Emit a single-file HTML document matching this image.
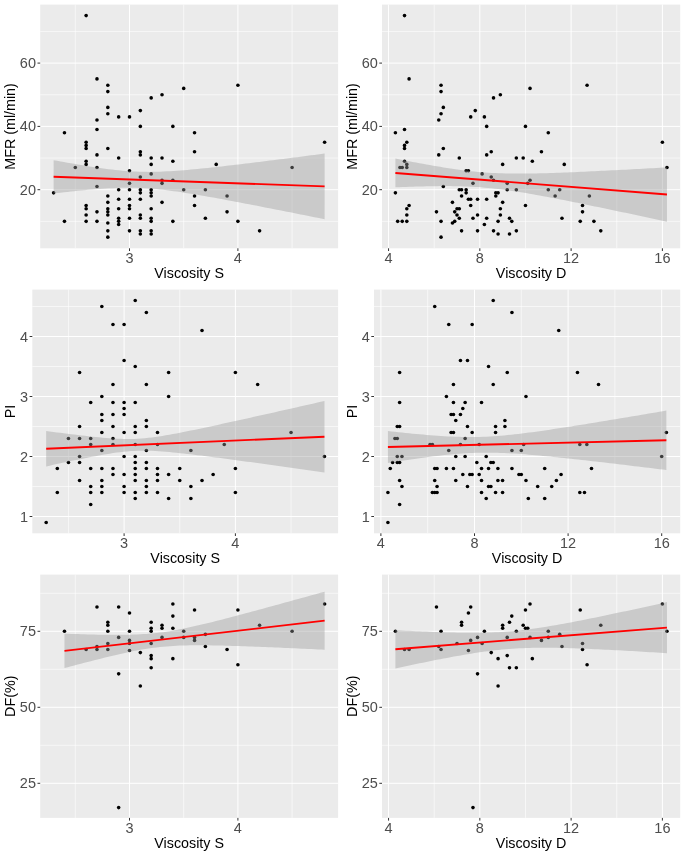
<!DOCTYPE html>
<html lang="en"><head><meta charset="utf-8"><title>Scatter plots</title>
<style>html,body{margin:0;padding:0;background:#fff}svg{display:block;will-change:transform}</style>
</head><body>
<svg width="685" height="856" viewBox="0 0 685 856" font-family="'Liberation Sans', Arial, Helvetica, sans-serif">
<rect width="685" height="856" fill="#fff"/>
<g>
<rect x="40.2" y="4.6" width="297.9" height="243.7" fill="#ebebeb"/>
<path d="M75.3 4.6V248.3M183.7 4.6V248.3M292.1 4.6V248.3M40.2 221.35H338.1M40.2 158.05H338.1M40.2 94.75H338.1M40.2 31.45H338.1" stroke="#fff" stroke-width="0.6" fill="none"/>
<path d="M129.5 4.6V248.3M237.9 4.6V248.3M40.2 189.7H338.1M40.2 126.4H338.1M40.2 63.1H338.1" stroke="#fff" stroke-width="1" fill="none"/>
<g fill="#000">
<circle cx="53.62" cy="192.87" r="1.8"/>
<circle cx="64.46" cy="132.73" r="1.8"/>
<circle cx="64.46" cy="221.35" r="1.8"/>
<circle cx="75.3" cy="167.55" r="1.8"/>
<circle cx="86.14" cy="15.62" r="1.8"/>
<circle cx="86.14" cy="142.22" r="1.8"/>
<circle cx="86.14" cy="145.39" r="1.8"/>
<circle cx="86.14" cy="148.56" r="1.8"/>
<circle cx="86.14" cy="161.22" r="1.8"/>
<circle cx="86.14" cy="164.38" r="1.8"/>
<circle cx="86.14" cy="205.53" r="1.8"/>
<circle cx="86.14" cy="208.69" r="1.8"/>
<circle cx="86.14" cy="215.02" r="1.8"/>
<circle cx="86.14" cy="221.35" r="1.8"/>
<circle cx="96.98" cy="78.92" r="1.8"/>
<circle cx="96.98" cy="120.07" r="1.8"/>
<circle cx="96.98" cy="129.56" r="1.8"/>
<circle cx="96.98" cy="154.88" r="1.8"/>
<circle cx="96.98" cy="167.55" r="1.8"/>
<circle cx="96.98" cy="186.53" r="1.8"/>
<circle cx="96.98" cy="211.85" r="1.8"/>
<circle cx="96.98" cy="221.35" r="1.8"/>
<circle cx="107.82" cy="85.25" r="1.8"/>
<circle cx="107.82" cy="91.59" r="1.8"/>
<circle cx="107.82" cy="107.41" r="1.8"/>
<circle cx="107.82" cy="113.74" r="1.8"/>
<circle cx="107.82" cy="148.56" r="1.8"/>
<circle cx="107.82" cy="196.03" r="1.8"/>
<circle cx="107.82" cy="202.36" r="1.8"/>
<circle cx="107.82" cy="208.69" r="1.8"/>
<circle cx="107.82" cy="211.85" r="1.8"/>
<circle cx="107.82" cy="215.02" r="1.8"/>
<circle cx="107.82" cy="222.93" r="1.8"/>
<circle cx="107.82" cy="230.84" r="1.8"/>
<circle cx="107.82" cy="237.17" r="1.8"/>
<circle cx="118.66" cy="116.91" r="1.8"/>
<circle cx="118.66" cy="158.05" r="1.8"/>
<circle cx="118.66" cy="189.7" r="1.8"/>
<circle cx="118.66" cy="199.19" r="1.8"/>
<circle cx="118.66" cy="208.69" r="1.8"/>
<circle cx="118.66" cy="218.19" r="1.8"/>
<circle cx="118.66" cy="221.35" r="1.8"/>
<circle cx="118.66" cy="224.51" r="1.8"/>
<circle cx="129.5" cy="116.91" r="1.8"/>
<circle cx="129.5" cy="170.71" r="1.8"/>
<circle cx="129.5" cy="183.37" r="1.8"/>
<circle cx="129.5" cy="189.7" r="1.8"/>
<circle cx="129.5" cy="199.19" r="1.8"/>
<circle cx="129.5" cy="205.53" r="1.8"/>
<circle cx="129.5" cy="208.69" r="1.8"/>
<circle cx="129.5" cy="218.19" r="1.8"/>
<circle cx="129.5" cy="230.84" r="1.8"/>
<circle cx="140.34" cy="110.58" r="1.8"/>
<circle cx="140.34" cy="126.4" r="1.8"/>
<circle cx="140.34" cy="151.72" r="1.8"/>
<circle cx="140.34" cy="154.88" r="1.8"/>
<circle cx="140.34" cy="177.04" r="1.8"/>
<circle cx="140.34" cy="189.7" r="1.8"/>
<circle cx="140.34" cy="192.87" r="1.8"/>
<circle cx="140.34" cy="199.19" r="1.8"/>
<circle cx="140.34" cy="215.02" r="1.8"/>
<circle cx="140.34" cy="218.19" r="1.8"/>
<circle cx="140.34" cy="230.84" r="1.8"/>
<circle cx="140.34" cy="234.01" r="1.8"/>
<circle cx="151.18" cy="97.91" r="1.8"/>
<circle cx="151.18" cy="158.05" r="1.8"/>
<circle cx="151.18" cy="164.38" r="1.8"/>
<circle cx="151.18" cy="173.88" r="1.8"/>
<circle cx="151.18" cy="189.7" r="1.8"/>
<circle cx="151.18" cy="192.87" r="1.8"/>
<circle cx="151.18" cy="196.03" r="1.8"/>
<circle cx="151.18" cy="208.69" r="1.8"/>
<circle cx="151.18" cy="218.19" r="1.8"/>
<circle cx="151.18" cy="221.35" r="1.8"/>
<circle cx="151.18" cy="230.84" r="1.8"/>
<circle cx="151.18" cy="234.01" r="1.8"/>
<circle cx="162.02" cy="94.75" r="1.8"/>
<circle cx="162.02" cy="158.05" r="1.8"/>
<circle cx="162.02" cy="180.21" r="1.8"/>
<circle cx="162.02" cy="183.37" r="1.8"/>
<circle cx="162.02" cy="202.36" r="1.8"/>
<circle cx="172.86" cy="126.4" r="1.8"/>
<circle cx="172.86" cy="161.22" r="1.8"/>
<circle cx="172.86" cy="180.21" r="1.8"/>
<circle cx="172.86" cy="221.35" r="1.8"/>
<circle cx="183.7" cy="88.42" r="1.8"/>
<circle cx="183.7" cy="189.7" r="1.8"/>
<circle cx="194.54" cy="132.73" r="1.8"/>
<circle cx="194.54" cy="151.72" r="1.8"/>
<circle cx="194.54" cy="196.03" r="1.8"/>
<circle cx="194.54" cy="205.53" r="1.8"/>
<circle cx="205.38" cy="189.7" r="1.8"/>
<circle cx="205.38" cy="218.19" r="1.8"/>
<circle cx="216.22" cy="164.38" r="1.8"/>
<circle cx="227.06" cy="196.03" r="1.8"/>
<circle cx="227.06" cy="211.85" r="1.8"/>
<circle cx="237.9" cy="85.25" r="1.8"/>
<circle cx="237.9" cy="221.35" r="1.8"/>
<circle cx="259.58" cy="230.84" r="1.8"/>
<circle cx="292.1" cy="167.55" r="1.8"/>
<circle cx="324.62" cy="142.22" r="1.8"/>
</g>
<polygon points="53.62,160.17 57.05,160.8 60.48,161.43 63.91,162.05 67.34,162.66 70.77,163.27 74.2,163.86 77.63,164.45 81.06,165.03 84.49,165.6 87.92,166.16 91.35,166.7 94.78,167.23 98.21,167.74 101.65,168.23 105.08,168.7 108.51,169.15 111.94,169.57 115.37,169.97 118.8,170.33 122.23,170.66 125.66,170.95 129.09,171.21 132.52,171.42 135.95,171.6 139.38,171.73 142.81,171.82 146.24,171.87 149.67,171.88 153.1,171.85 156.53,171.78 159.96,171.67 163.39,171.54 166.82,171.37 170.25,171.18 173.68,170.96 177.11,170.73 180.54,170.47 183.97,170.19 187.4,169.9 190.84,169.59 194.27,169.28 197.7,168.95 201.13,168.6 204.56,168.25 207.99,167.9 211.42,167.53 214.85,167.16 218.28,166.78 221.71,166.39 225.14,166 228.57,165.61 232,165.21 235.43,164.8 238.86,164.4 242.29,163.99 245.72,163.58 249.15,163.16 252.58,162.74 256.01,162.32 259.44,161.9 262.87,161.47 266.3,161.05 269.73,160.62 273.16,160.19 276.59,159.75 280.03,159.32 283.46,158.89 286.89,158.45 290.32,158.01 293.75,157.57 297.18,157.13 300.61,156.69 304.04,156.25 307.47,155.81 310.9,155.37 314.33,154.92 317.76,154.48 321.19,154.03 324.62,153.59 324.62,219.23 321.19,218.54 317.76,217.85 314.33,217.16 310.9,216.48 307.47,215.79 304.04,215.1 300.61,214.42 297.18,213.73 293.75,213.05 290.32,212.37 286.89,211.69 283.46,211.01 280.03,210.33 276.59,209.65 273.16,208.98 269.73,208.3 266.3,207.63 262.87,206.96 259.44,206.29 256.01,205.62 252.58,204.96 249.15,204.3 245.72,203.64 242.29,202.98 238.86,202.33 235.43,201.68 232,201.03 228.57,200.39 225.14,199.75 221.71,199.12 218.28,198.49 214.85,197.87 211.42,197.25 207.99,196.64 204.56,196.04 201.13,195.44 197.7,194.86 194.27,194.29 190.84,193.72 187.4,193.17 183.97,192.64 180.54,192.12 177.11,191.62 173.68,191.13 170.25,190.67 166.82,190.24 163.39,189.83 159.96,189.45 156.53,189.1 153.1,188.79 149.67,188.52 146.24,188.28 142.81,188.09 139.38,187.93 135.95,187.82 132.52,187.75 129.09,187.72 125.66,187.74 122.23,187.79 118.8,187.87 115.37,187.99 111.94,188.14 108.51,188.32 105.08,188.53 101.65,188.75 98.21,189 94.78,189.27 91.35,189.55 87.92,189.85 84.49,190.16 81.06,190.49 77.63,190.82 74.2,191.17 70.77,191.52 67.34,191.89 63.91,192.26 60.48,192.63 57.05,193.02 53.62,193.4" fill="#999" fill-opacity="0.4"/>
<line x1="53.62" y1="176.79" x2="324.62" y2="186.41" stroke="#f00" stroke-width="1.9"/>
<path d="M129.5 248.3v2.7M237.9 248.3v2.7M40.2 189.7h-2.7M40.2 126.4h-2.7M40.2 63.1h-2.7" stroke="#333" stroke-width="1" fill="none"/>
<g font-size="14.5" fill="#4d4d4d">
<text x="129.5" y="263.1" text-anchor="middle">3</text>
<text x="237.9" y="263.1" text-anchor="middle">4</text>
<text x="36" y="194.7" text-anchor="end">20</text>
<text x="36" y="131.4" text-anchor="end">40</text>
<text x="36" y="68.1" text-anchor="end">60</text>
</g>
<text x="189.15" y="277.7" text-anchor="middle" font-size="14.3" fill="#000">Viscosity S</text>
<text transform="translate(15 126.45) rotate(-90)" text-anchor="middle" font-size="14.3" fill="#000">MFR (ml/min)</text>
</g>
<g>
<rect x="382" y="4.6" width="298.2" height="243.7" fill="#ebebeb"/>
<path d="M434.19 4.6V248.3M525.47 4.6V248.3M616.75 4.6V248.3M382 221.35H680.2M382 158.05H680.2M382 94.75H680.2M382 31.45H680.2" stroke="#fff" stroke-width="0.6" fill="none"/>
<path d="M388.55 4.6V248.3M479.83 4.6V248.3M571.11 4.6V248.3M662.39 4.6V248.3M382 189.7H680.2M382 126.4H680.2M382 63.1H680.2" stroke="#fff" stroke-width="1" fill="none"/>
<g fill="#000">
<circle cx="404.52" cy="15.62" r="1.8"/>
<circle cx="409.09" cy="78.92" r="1.8"/>
<circle cx="441.04" cy="85.25" r="1.8"/>
<circle cx="441.04" cy="91.59" r="1.8"/>
<circle cx="443.32" cy="107.41" r="1.8"/>
<circle cx="441.04" cy="113.74" r="1.8"/>
<circle cx="438.75" cy="120.07" r="1.8"/>
<circle cx="470.7" cy="116.91" r="1.8"/>
<circle cx="475.27" cy="110.58" r="1.8"/>
<circle cx="484.39" cy="116.91" r="1.8"/>
<circle cx="486.68" cy="126.4" r="1.8"/>
<circle cx="493.52" cy="97.91" r="1.8"/>
<circle cx="500.37" cy="94.75" r="1.8"/>
<circle cx="395.4" cy="132.73" r="1.8"/>
<circle cx="404.52" cy="129.56" r="1.8"/>
<circle cx="406.81" cy="142.22" r="1.8"/>
<circle cx="530.03" cy="88.42" r="1.8"/>
<circle cx="587.08" cy="85.25" r="1.8"/>
<circle cx="525.47" cy="126.4" r="1.8"/>
<circle cx="548.29" cy="132.73" r="1.8"/>
<circle cx="404.52" cy="145.39" r="1.8"/>
<circle cx="404.52" cy="148.56" r="1.8"/>
<circle cx="443.32" cy="148.56" r="1.8"/>
<circle cx="491.24" cy="151.72" r="1.8"/>
<circle cx="438.75" cy="154.88" r="1.8"/>
<circle cx="486.68" cy="154.88" r="1.8"/>
<circle cx="459.29" cy="158.05" r="1.8"/>
<circle cx="404.52" cy="161.22" r="1.8"/>
<circle cx="406.81" cy="164.38" r="1.8"/>
<circle cx="399.96" cy="167.55" r="1.8"/>
<circle cx="402.24" cy="167.55" r="1.8"/>
<circle cx="406.81" cy="167.55" r="1.8"/>
<circle cx="466.14" cy="170.71" r="1.8"/>
<circle cx="468.42" cy="170.71" r="1.8"/>
<circle cx="482.11" cy="173.88" r="1.8"/>
<circle cx="491.24" cy="177.04" r="1.8"/>
<circle cx="493.52" cy="180.21" r="1.8"/>
<circle cx="472.98" cy="183.37" r="1.8"/>
<circle cx="443.32" cy="186.53" r="1.8"/>
<circle cx="459.29" cy="189.7" r="1.8"/>
<circle cx="461.57" cy="189.7" r="1.8"/>
<circle cx="466.14" cy="189.7" r="1.8"/>
<circle cx="466.14" cy="192.87" r="1.8"/>
<circle cx="395.4" cy="192.87" r="1.8"/>
<circle cx="461.57" cy="196.03" r="1.8"/>
<circle cx="468.42" cy="199.19" r="1.8"/>
<circle cx="470.7" cy="199.19" r="1.8"/>
<circle cx="477.55" cy="199.19" r="1.8"/>
<circle cx="486.68" cy="199.19" r="1.8"/>
<circle cx="452.45" cy="202.36" r="1.8"/>
<circle cx="409.09" cy="205.53" r="1.8"/>
<circle cx="470.7" cy="205.53" r="1.8"/>
<circle cx="406.81" cy="208.69" r="1.8"/>
<circle cx="457.01" cy="208.69" r="1.8"/>
<circle cx="459.29" cy="208.69" r="1.8"/>
<circle cx="436.47" cy="211.85" r="1.8"/>
<circle cx="454.73" cy="211.85" r="1.8"/>
<circle cx="406.81" cy="215.02" r="1.8"/>
<circle cx="457.01" cy="215.02" r="1.8"/>
<circle cx="477.55" cy="215.02" r="1.8"/>
<circle cx="459.29" cy="218.19" r="1.8"/>
<circle cx="472.98" cy="218.19" r="1.8"/>
<circle cx="486.68" cy="218.19" r="1.8"/>
<circle cx="397.68" cy="221.35" r="1.8"/>
<circle cx="402.24" cy="221.35" r="1.8"/>
<circle cx="406.81" cy="221.35" r="1.8"/>
<circle cx="441.04" cy="221.35" r="1.8"/>
<circle cx="454.73" cy="221.35" r="1.8"/>
<circle cx="452.45" cy="222.93" r="1.8"/>
<circle cx="484.39" cy="224.51" r="1.8"/>
<circle cx="461.57" cy="230.84" r="1.8"/>
<circle cx="477.55" cy="230.84" r="1.8"/>
<circle cx="493.52" cy="230.84" r="1.8"/>
<circle cx="441.04" cy="237.17" r="1.8"/>
<circle cx="541.44" cy="151.72" r="1.8"/>
<circle cx="516.34" cy="158.05" r="1.8"/>
<circle cx="523.19" cy="158.05" r="1.8"/>
<circle cx="532.32" cy="161.22" r="1.8"/>
<circle cx="502.65" cy="164.38" r="1.8"/>
<circle cx="564.26" cy="164.38" r="1.8"/>
<circle cx="530.03" cy="180.21" r="1.8"/>
<circle cx="507.21" cy="183.37" r="1.8"/>
<circle cx="527.75" cy="183.37" r="1.8"/>
<circle cx="507.21" cy="189.7" r="1.8"/>
<circle cx="516.34" cy="189.7" r="1.8"/>
<circle cx="548.29" cy="189.7" r="1.8"/>
<circle cx="559.7" cy="189.7" r="1.8"/>
<circle cx="495.8" cy="192.87" r="1.8"/>
<circle cx="498.09" cy="192.87" r="1.8"/>
<circle cx="495.8" cy="196.03" r="1.8"/>
<circle cx="555.14" cy="196.03" r="1.8"/>
<circle cx="589.37" cy="196.03" r="1.8"/>
<circle cx="502.65" cy="202.36" r="1.8"/>
<circle cx="525.47" cy="205.53" r="1.8"/>
<circle cx="582.52" cy="205.53" r="1.8"/>
<circle cx="500.37" cy="208.69" r="1.8"/>
<circle cx="582.52" cy="211.85" r="1.8"/>
<circle cx="500.37" cy="215.02" r="1.8"/>
<circle cx="509.5" cy="218.19" r="1.8"/>
<circle cx="561.98" cy="218.19" r="1.8"/>
<circle cx="498.09" cy="221.35" r="1.8"/>
<circle cx="511.78" cy="221.35" r="1.8"/>
<circle cx="580.24" cy="221.35" r="1.8"/>
<circle cx="593.93" cy="221.35" r="1.8"/>
<circle cx="516.34" cy="230.84" r="1.8"/>
<circle cx="600.78" cy="230.84" r="1.8"/>
<circle cx="498.09" cy="234.01" r="1.8"/>
<circle cx="509.5" cy="234.01" r="1.8"/>
<circle cx="662.39" cy="142.22" r="1.8"/>
<circle cx="666.95" cy="167.55" r="1.8"/>
</g>
<polygon points="395.4,158.52 398.83,159.21 402.27,159.89 405.71,160.56 409.15,161.23 412.58,161.89 416.02,162.54 419.46,163.19 422.9,163.82 426.33,164.45 429.77,165.07 433.21,165.68 436.65,166.27 440.08,166.85 443.52,167.41 446.96,167.96 450.4,168.49 453.83,169 457.27,169.49 460.71,169.96 464.14,170.4 467.58,170.81 471.02,171.2 474.46,171.56 477.89,171.89 481.33,172.18 484.77,172.45 488.21,172.68 491.64,172.89 495.08,173.06 498.52,173.21 501.96,173.33 505.39,173.42 508.83,173.49 512.27,173.54 515.71,173.57 519.14,173.57 522.58,173.57 526.02,173.54 529.46,173.5 532.89,173.45 536.33,173.38 539.77,173.31 543.21,173.22 546.64,173.13 550.08,173.02 553.52,172.91 556.96,172.8 560.39,172.68 563.83,172.55 567.27,172.41 570.71,172.27 574.14,172.13 577.58,171.98 581.02,171.83 584.46,171.68 587.89,171.52 591.33,171.36 594.77,171.2 598.21,171.04 601.64,170.87 605.08,170.7 608.52,170.53 611.95,170.35 615.39,170.18 618.83,170 622.27,169.82 625.7,169.64 629.14,169.46 632.58,169.28 636.02,169.1 639.45,168.91 642.89,168.73 646.33,168.54 649.77,168.35 653.2,168.16 656.64,167.98 660.08,167.78 663.52,167.59 666.95,167.4 666.95,221.68 663.52,220.94 660.08,220.21 656.64,219.47 653.2,218.73 649.77,218 646.33,217.26 642.89,216.53 639.45,215.79 636.02,215.06 632.58,214.33 629.14,213.6 625.7,212.87 622.27,212.15 618.83,211.42 615.39,210.7 611.95,209.97 608.52,209.25 605.08,208.54 601.64,207.82 598.21,207.1 594.77,206.39 591.33,205.68 587.89,204.97 584.46,204.27 581.02,203.57 577.58,202.87 574.14,202.18 570.71,201.49 567.27,200.8 563.83,200.12 560.39,199.44 556.96,198.77 553.52,198.11 550.08,197.45 546.64,196.8 543.21,196.16 539.77,195.53 536.33,194.91 532.89,194.29 529.46,193.69 526.02,193.11 522.58,192.53 519.14,191.98 515.71,191.44 512.27,190.92 508.83,190.42 505.39,189.94 501.96,189.49 498.52,189.06 495.08,188.66 491.64,188.29 488.21,187.94 484.77,187.63 481.33,187.35 477.89,187.1 474.46,186.88 471.02,186.69 467.58,186.53 464.14,186.4 460.71,186.29 457.27,186.21 453.83,186.15 450.4,186.11 446.96,186.1 443.52,186.1 440.08,186.12 436.65,186.15 433.21,186.19 429.77,186.25 426.33,186.32 422.9,186.4 419.46,186.49 416.02,186.59 412.58,186.7 409.15,186.81 405.71,186.93 402.27,187.06 398.83,187.19 395.4,187.33" fill="#999" fill-opacity="0.4"/>
<line x1="395.4" y1="172.93" x2="666.95" y2="194.54" stroke="#f00" stroke-width="1.9"/>
<path d="M388.55 248.3v2.7M479.83 248.3v2.7M571.11 248.3v2.7M662.39 248.3v2.7M382 189.7h-2.7M382 126.4h-2.7M382 63.1h-2.7" stroke="#333" stroke-width="1" fill="none"/>
<g font-size="14.5" fill="#4d4d4d">
<text x="388.55" y="263.1" text-anchor="middle">4</text>
<text x="479.83" y="263.1" text-anchor="middle">8</text>
<text x="571.11" y="263.1" text-anchor="middle">12</text>
<text x="662.39" y="263.1" text-anchor="middle">16</text>
<text x="377.8" y="194.7" text-anchor="end">20</text>
<text x="377.8" y="131.4" text-anchor="end">40</text>
<text x="377.8" y="68.1" text-anchor="end">60</text>
</g>
<text x="531.1" y="277.7" text-anchor="middle" font-size="14.3" fill="#000">Viscosity D</text>
<text transform="translate(357.2 126.45) rotate(-90)" text-anchor="middle" font-size="14.3" fill="#000">MFR (ml/min)</text>
</g>
<g>
<rect x="32.3" y="289.6" width="305.8" height="243.7" fill="#ebebeb"/>
<path d="M68.45 289.6V533.3M179.75 289.6V533.3M291.05 289.6V533.3M32.3 486.5H338.1M32.3 426.5H338.1M32.3 366.5H338.1M32.3 306.5H338.1" stroke="#fff" stroke-width="0.6" fill="none"/>
<path d="M124.1 289.6V533.3M235.4 289.6V533.3M32.3 516.5H338.1M32.3 456.5H338.1M32.3 396.5H338.1M32.3 336.5H338.1" stroke="#fff" stroke-width="1" fill="none"/>
<g fill="#000">
<circle cx="46.19" cy="522.5" r="1.8"/>
<circle cx="57.32" cy="468.5" r="1.8"/>
<circle cx="57.32" cy="492.5" r="1.8"/>
<circle cx="68.45" cy="438.5" r="1.8"/>
<circle cx="68.45" cy="462.5" r="1.8"/>
<circle cx="79.58" cy="372.5" r="1.8"/>
<circle cx="79.58" cy="426.5" r="1.8"/>
<circle cx="79.58" cy="438.5" r="1.8"/>
<circle cx="79.58" cy="456.5" r="1.8"/>
<circle cx="79.58" cy="462.5" r="1.8"/>
<circle cx="79.58" cy="480.5" r="1.8"/>
<circle cx="90.71" cy="402.5" r="1.8"/>
<circle cx="90.71" cy="438.5" r="1.8"/>
<circle cx="90.71" cy="444.5" r="1.8"/>
<circle cx="90.71" cy="468.5" r="1.8"/>
<circle cx="90.71" cy="486.5" r="1.8"/>
<circle cx="90.71" cy="492.5" r="1.8"/>
<circle cx="90.71" cy="504.5" r="1.8"/>
<circle cx="101.84" cy="306.5" r="1.8"/>
<circle cx="101.84" cy="396.5" r="1.8"/>
<circle cx="101.84" cy="414.5" r="1.8"/>
<circle cx="101.84" cy="420.5" r="1.8"/>
<circle cx="101.84" cy="432.5" r="1.8"/>
<circle cx="101.84" cy="450.5" r="1.8"/>
<circle cx="101.84" cy="468.5" r="1.8"/>
<circle cx="101.84" cy="480.5" r="1.8"/>
<circle cx="101.84" cy="486.5" r="1.8"/>
<circle cx="101.84" cy="492.5" r="1.8"/>
<circle cx="112.97" cy="324.5" r="1.8"/>
<circle cx="112.97" cy="384.5" r="1.8"/>
<circle cx="112.97" cy="402.5" r="1.8"/>
<circle cx="112.97" cy="414.5" r="1.8"/>
<circle cx="112.97" cy="426.5" r="1.8"/>
<circle cx="112.97" cy="438.5" r="1.8"/>
<circle cx="112.97" cy="444.5" r="1.8"/>
<circle cx="112.97" cy="468.5" r="1.8"/>
<circle cx="112.97" cy="474.5" r="1.8"/>
<circle cx="124.1" cy="324.5" r="1.8"/>
<circle cx="124.1" cy="360.5" r="1.8"/>
<circle cx="124.1" cy="402.5" r="1.8"/>
<circle cx="124.1" cy="408.5" r="1.8"/>
<circle cx="124.1" cy="414.5" r="1.8"/>
<circle cx="124.1" cy="432.5" r="1.8"/>
<circle cx="124.1" cy="456.5" r="1.8"/>
<circle cx="124.1" cy="474.5" r="1.8"/>
<circle cx="124.1" cy="486.5" r="1.8"/>
<circle cx="124.1" cy="492.5" r="1.8"/>
<circle cx="135.23" cy="300.5" r="1.8"/>
<circle cx="135.23" cy="366.5" r="1.8"/>
<circle cx="135.23" cy="402.5" r="1.8"/>
<circle cx="135.23" cy="426.5" r="1.8"/>
<circle cx="135.23" cy="432.5" r="1.8"/>
<circle cx="135.23" cy="444.5" r="1.8"/>
<circle cx="135.23" cy="456.5" r="1.8"/>
<circle cx="135.23" cy="462.5" r="1.8"/>
<circle cx="135.23" cy="468.5" r="1.8"/>
<circle cx="135.23" cy="474.5" r="1.8"/>
<circle cx="135.23" cy="480.5" r="1.8"/>
<circle cx="135.23" cy="492.5" r="1.8"/>
<circle cx="135.23" cy="498.5" r="1.8"/>
<circle cx="146.36" cy="312.5" r="1.8"/>
<circle cx="146.36" cy="384.5" r="1.8"/>
<circle cx="146.36" cy="420.5" r="1.8"/>
<circle cx="146.36" cy="426.5" r="1.8"/>
<circle cx="146.36" cy="450.5" r="1.8"/>
<circle cx="146.36" cy="462.5" r="1.8"/>
<circle cx="146.36" cy="468.5" r="1.8"/>
<circle cx="146.36" cy="480.5" r="1.8"/>
<circle cx="146.36" cy="486.5" r="1.8"/>
<circle cx="146.36" cy="492.5" r="1.8"/>
<circle cx="157.49" cy="432.5" r="1.8"/>
<circle cx="157.49" cy="444.5" r="1.8"/>
<circle cx="157.49" cy="468.5" r="1.8"/>
<circle cx="157.49" cy="474.5" r="1.8"/>
<circle cx="157.49" cy="480.5" r="1.8"/>
<circle cx="157.49" cy="492.5" r="1.8"/>
<circle cx="168.62" cy="372.5" r="1.8"/>
<circle cx="168.62" cy="396.5" r="1.8"/>
<circle cx="168.62" cy="474.5" r="1.8"/>
<circle cx="168.62" cy="498.5" r="1.8"/>
<circle cx="179.75" cy="468.5" r="1.8"/>
<circle cx="179.75" cy="480.5" r="1.8"/>
<circle cx="190.88" cy="450.5" r="1.8"/>
<circle cx="190.88" cy="486.5" r="1.8"/>
<circle cx="190.88" cy="498.5" r="1.8"/>
<circle cx="202.01" cy="330.5" r="1.8"/>
<circle cx="202.01" cy="480.5" r="1.8"/>
<circle cx="213.14" cy="474.5" r="1.8"/>
<circle cx="224.27" cy="444.5" r="1.8"/>
<circle cx="235.4" cy="372.5" r="1.8"/>
<circle cx="235.4" cy="468.5" r="1.8"/>
<circle cx="235.4" cy="492.5" r="1.8"/>
<circle cx="257.66" cy="384.5" r="1.8"/>
<circle cx="291.05" cy="432.5" r="1.8"/>
<circle cx="324.44" cy="456.5" r="1.8"/>
</g>
<polygon points="46.19,431 49.71,431.46 53.23,431.93 56.76,432.38 60.28,432.84 63.8,433.29 67.32,433.73 70.85,434.17 74.37,434.6 77.89,435.03 81.41,435.45 84.93,435.86 88.46,436.25 91.98,436.64 95.5,437 99.02,437.36 102.54,437.69 106.07,437.99 109.59,438.27 113.11,438.51 116.63,438.72 120.16,438.87 123.68,438.98 127.2,439.02 130.72,439.01 134.24,438.92 137.77,438.76 141.29,438.52 144.81,438.22 148.33,437.86 151.85,437.44 155.38,436.96 158.9,436.45 162.42,435.89 165.94,435.3 169.47,434.69 172.99,434.05 176.51,433.39 180.03,432.71 183.55,432.02 187.08,431.32 190.6,430.6 194.12,429.88 197.64,429.15 201.16,428.41 204.69,427.67 208.21,426.92 211.73,426.16 215.25,425.4 218.78,424.64 222.3,423.87 225.82,423.1 229.34,422.33 232.86,421.56 236.39,420.78 239.91,420 243.43,419.22 246.95,418.44 250.47,417.66 254,416.87 257.52,416.09 261.04,415.3 264.56,414.51 268.09,413.72 271.61,412.93 275.13,412.14 278.65,411.35 282.17,410.56 285.7,409.76 289.22,408.97 292.74,408.17 296.26,407.38 299.78,406.58 303.31,405.79 306.83,404.99 310.35,404.19 313.87,403.4 317.4,402.6 320.92,401.8 324.44,401 324.44,472.4 320.92,471.9 317.4,471.41 313.87,470.92 310.35,470.42 306.83,469.93 303.31,469.44 299.78,468.94 296.26,468.45 292.74,467.96 289.22,467.47 285.7,466.98 282.17,466.49 278.65,466 275.13,465.51 271.61,465.02 268.09,464.54 264.56,464.05 261.04,463.57 257.52,463.08 254,462.6 250.47,462.12 246.95,461.64 243.43,461.16 239.91,460.69 236.39,460.21 232.86,459.74 229.34,459.27 225.82,458.8 222.3,458.34 218.78,457.87 215.25,457.42 211.73,456.96 208.21,456.51 204.69,456.06 201.16,455.62 197.64,455.19 194.12,454.76 190.6,454.34 187.08,453.93 183.55,453.53 180.03,453.15 176.51,452.77 172.99,452.42 169.47,452.08 165.94,451.77 162.42,451.48 158.9,451.23 155.38,451.02 151.85,450.85 148.33,450.73 144.81,450.67 141.29,450.67 137.77,450.75 134.24,450.89 130.72,451.1 127.2,451.39 123.68,451.74 120.16,452.15 116.63,452.61 113.11,453.12 109.59,453.66 106.07,454.24 102.54,454.85 99.02,455.49 95.5,456.14 91.98,456.82 88.46,457.5 84.93,458.2 81.41,458.91 77.89,459.64 74.37,460.37 70.85,461.1 67.32,461.85 63.8,462.59 60.28,463.35 56.76,464.1 53.23,464.87 49.71,465.63 46.19,466.4" fill="#999" fill-opacity="0.4"/>
<line x1="46.19" y1="448.7" x2="324.44" y2="436.7" stroke="#f00" stroke-width="1.9"/>
<path d="M124.1 533.3v2.7M235.4 533.3v2.7M32.3 516.5h-2.7M32.3 456.5h-2.7M32.3 396.5h-2.7M32.3 336.5h-2.7" stroke="#333" stroke-width="1" fill="none"/>
<g font-size="14.5" fill="#4d4d4d">
<text x="124.1" y="548.1" text-anchor="middle">3</text>
<text x="235.4" y="548.1" text-anchor="middle">4</text>
<text x="28.1" y="521.5" text-anchor="end">1</text>
<text x="28.1" y="461.5" text-anchor="end">2</text>
<text x="28.1" y="401.5" text-anchor="end">3</text>
<text x="28.1" y="341.5" text-anchor="end">4</text>
</g>
<text x="185.2" y="562.7" text-anchor="middle" font-size="14.3" fill="#000">Viscosity S</text>
<text transform="translate(15 411.45) rotate(-90)" text-anchor="middle" font-size="14.3" fill="#000">PI</text>
</g>
<g>
<rect x="374" y="289.6" width="306.2" height="243.7" fill="#ebebeb"/>
<path d="M427.7 289.6V533.3M521.3 289.6V533.3M614.9 289.6V533.3M374 486.5H680.2M374 426.5H680.2M374 366.5H680.2M374 306.5H680.2" stroke="#fff" stroke-width="0.6" fill="none"/>
<path d="M380.9 289.6V533.3M474.5 289.6V533.3M568.1 289.6V533.3M661.7 289.6V533.3M374 516.5H680.2M374 456.5H680.2M374 396.5H680.2M374 336.5H680.2" stroke="#fff" stroke-width="1" fill="none"/>
<g fill="#000">
<circle cx="493.22" cy="300.5" r="1.8"/>
<circle cx="434.72" cy="306.5" r="1.8"/>
<circle cx="448.76" cy="324.5" r="1.8"/>
<circle cx="472.16" cy="324.5" r="1.8"/>
<circle cx="460.46" cy="360.5" r="1.8"/>
<circle cx="467.48" cy="360.5" r="1.8"/>
<circle cx="488.54" cy="366.5" r="1.8"/>
<circle cx="399.62" cy="372.5" r="1.8"/>
<circle cx="453.44" cy="384.5" r="1.8"/>
<circle cx="493.22" cy="384.5" r="1.8"/>
<circle cx="446.42" cy="396.5" r="1.8"/>
<circle cx="399.62" cy="402.5" r="1.8"/>
<circle cx="453.44" cy="402.5" r="1.8"/>
<circle cx="465.14" cy="402.5" r="1.8"/>
<circle cx="481.52" cy="402.5" r="1.8"/>
<circle cx="462.8" cy="408.5" r="1.8"/>
<circle cx="451.1" cy="414.5" r="1.8"/>
<circle cx="453.44" cy="414.5" r="1.8"/>
<circle cx="460.46" cy="414.5" r="1.8"/>
<circle cx="455.78" cy="420.5" r="1.8"/>
<circle cx="397.28" cy="426.5" r="1.8"/>
<circle cx="399.62" cy="426.5" r="1.8"/>
<circle cx="467.48" cy="426.5" r="1.8"/>
<circle cx="451.1" cy="432.5" r="1.8"/>
<circle cx="453.44" cy="432.5" r="1.8"/>
<circle cx="472.16" cy="432.5" r="1.8"/>
<circle cx="394.94" cy="438.5" r="1.8"/>
<circle cx="397.28" cy="438.5" r="1.8"/>
<circle cx="465.14" cy="438.5" r="1.8"/>
<circle cx="430.04" cy="444.5" r="1.8"/>
<circle cx="432.38" cy="444.5" r="1.8"/>
<circle cx="460.46" cy="444.5" r="1.8"/>
<circle cx="479.18" cy="444.5" r="1.8"/>
<circle cx="448.76" cy="450.5" r="1.8"/>
<circle cx="397.28" cy="456.5" r="1.8"/>
<circle cx="401.96" cy="456.5" r="1.8"/>
<circle cx="455.78" cy="456.5" r="1.8"/>
<circle cx="465.14" cy="456.5" r="1.8"/>
<circle cx="486.2" cy="456.5" r="1.8"/>
<circle cx="392.6" cy="462.5" r="1.8"/>
<circle cx="397.28" cy="462.5" r="1.8"/>
<circle cx="399.62" cy="462.5" r="1.8"/>
<circle cx="476.84" cy="462.5" r="1.8"/>
<circle cx="490.88" cy="462.5" r="1.8"/>
<circle cx="493.22" cy="462.5" r="1.8"/>
<circle cx="390.26" cy="468.5" r="1.8"/>
<circle cx="434.72" cy="468.5" r="1.8"/>
<circle cx="437.06" cy="468.5" r="1.8"/>
<circle cx="446.42" cy="468.5" r="1.8"/>
<circle cx="453.44" cy="468.5" r="1.8"/>
<circle cx="481.52" cy="468.5" r="1.8"/>
<circle cx="488.54" cy="468.5" r="1.8"/>
<circle cx="462.8" cy="474.5" r="1.8"/>
<circle cx="469.82" cy="474.5" r="1.8"/>
<circle cx="472.16" cy="474.5" r="1.8"/>
<circle cx="479.18" cy="474.5" r="1.8"/>
<circle cx="399.62" cy="480.5" r="1.8"/>
<circle cx="434.72" cy="480.5" r="1.8"/>
<circle cx="455.78" cy="480.5" r="1.8"/>
<circle cx="481.52" cy="480.5" r="1.8"/>
<circle cx="401.96" cy="486.5" r="1.8"/>
<circle cx="437.06" cy="486.5" r="1.8"/>
<circle cx="467.48" cy="486.5" r="1.8"/>
<circle cx="488.54" cy="486.5" r="1.8"/>
<circle cx="490.88" cy="486.5" r="1.8"/>
<circle cx="387.92" cy="492.5" r="1.8"/>
<circle cx="432.38" cy="492.5" r="1.8"/>
<circle cx="434.72" cy="492.5" r="1.8"/>
<circle cx="437.06" cy="492.5" r="1.8"/>
<circle cx="481.52" cy="492.5" r="1.8"/>
<circle cx="486.2" cy="498.5" r="1.8"/>
<circle cx="399.62" cy="504.5" r="1.8"/>
<circle cx="387.92" cy="522.5" r="1.8"/>
<circle cx="504.92" cy="420.5" r="1.8"/>
<circle cx="495.56" cy="426.5" r="1.8"/>
<circle cx="504.92" cy="426.5" r="1.8"/>
<circle cx="495.56" cy="432.5" r="1.8"/>
<circle cx="523.64" cy="444.5" r="1.8"/>
<circle cx="579.8" cy="444.5" r="1.8"/>
<circle cx="586.82" cy="444.5" r="1.8"/>
<circle cx="511.94" cy="450.5" r="1.8"/>
<circle cx="521.3" cy="450.5" r="1.8"/>
<circle cx="497.9" cy="468.5" r="1.8"/>
<circle cx="511.94" cy="468.5" r="1.8"/>
<circle cx="544.7" cy="468.5" r="1.8"/>
<circle cx="591.5" cy="468.5" r="1.8"/>
<circle cx="518.96" cy="474.5" r="1.8"/>
<circle cx="521.3" cy="474.5" r="1.8"/>
<circle cx="561.08" cy="474.5" r="1.8"/>
<circle cx="497.9" cy="480.5" r="1.8"/>
<circle cx="502.58" cy="480.5" r="1.8"/>
<circle cx="525.98" cy="480.5" r="1.8"/>
<circle cx="556.4" cy="480.5" r="1.8"/>
<circle cx="537.68" cy="486.5" r="1.8"/>
<circle cx="551.72" cy="486.5" r="1.8"/>
<circle cx="495.56" cy="492.5" r="1.8"/>
<circle cx="502.58" cy="492.5" r="1.8"/>
<circle cx="579.8" cy="492.5" r="1.8"/>
<circle cx="584.48" cy="492.5" r="1.8"/>
<circle cx="528.32" cy="498.5" r="1.8"/>
<circle cx="544.7" cy="498.5" r="1.8"/>
<circle cx="511.94" cy="312.5" r="1.8"/>
<circle cx="558.74" cy="330.5" r="1.8"/>
<circle cx="507.26" cy="372.5" r="1.8"/>
<circle cx="577.46" cy="372.5" r="1.8"/>
<circle cx="598.52" cy="384.5" r="1.8"/>
<circle cx="525.98" cy="396.5" r="1.8"/>
<circle cx="666.38" cy="432.5" r="1.8"/>
<circle cx="661.7" cy="456.5" r="1.8"/>
</g>
<polygon points="387.92,431.12 391.44,431.5 394.97,431.87 398.49,432.24 402.02,432.6 405.54,432.96 409.07,433.31 412.59,433.65 416.12,433.98 419.64,434.31 423.17,434.62 426.69,434.92 430.22,435.21 433.74,435.48 437.27,435.74 440.79,435.98 444.32,436.2 447.84,436.4 451.37,436.58 454.89,436.73 458.42,436.85 461.94,436.95 465.47,437.01 468.99,437.04 472.52,437.03 476.04,436.99 479.57,436.91 483.09,436.8 486.61,436.65 490.14,436.46 493.66,436.24 497.19,435.99 500.71,435.71 504.24,435.4 507.76,435.06 511.29,434.7 514.81,434.32 518.34,433.91 521.86,433.49 525.39,433.05 528.91,432.6 532.44,432.14 535.96,431.66 539.49,431.17 543.01,430.67 546.54,430.16 550.06,429.64 553.59,429.12 557.11,428.59 560.64,428.05 564.16,427.51 567.69,426.96 571.21,426.41 574.73,425.86 578.26,425.3 581.78,424.73 585.31,424.17 588.83,423.6 592.36,423.02 595.88,422.45 599.41,421.87 602.93,421.29 606.46,420.71 609.98,420.12 613.51,419.54 617.03,418.95 620.56,418.36 624.08,417.77 627.61,417.18 631.13,416.59 634.66,415.99 638.18,415.4 641.71,414.8 645.23,414.2 648.76,413.61 652.28,413.01 655.81,412.41 659.33,411.8 662.86,411.2 666.38,410.6 666.38,470 662.86,469.57 659.33,469.14 655.81,468.7 652.28,468.27 648.76,467.85 645.23,467.42 641.71,466.99 638.18,466.56 634.66,466.14 631.13,465.71 627.61,465.29 624.08,464.87 620.56,464.45 617.03,464.03 613.51,463.61 609.98,463.2 606.46,462.78 602.93,462.37 599.41,461.96 595.88,461.55 592.36,461.15 588.83,460.75 585.31,460.35 581.78,459.95 578.26,459.56 574.73,459.17 571.21,458.78 567.69,458.4 564.16,458.02 560.64,457.65 557.11,457.28 553.59,456.92 550.06,456.57 546.54,456.22 543.01,455.89 539.49,455.56 535.96,455.24 532.44,454.93 528.91,454.63 525.39,454.35 521.86,454.08 518.34,453.83 514.81,453.6 511.29,453.39 507.76,453.19 504.24,453.03 500.71,452.89 497.19,452.77 493.66,452.69 490.14,452.64 486.61,452.63 483.09,452.65 479.57,452.7 476.04,452.8 472.52,452.92 468.99,453.09 465.47,453.29 461.94,453.52 458.42,453.78 454.89,454.08 451.37,454.4 447.84,454.75 444.32,455.12 440.79,455.51 437.27,455.92 433.74,456.35 430.22,456.79 426.69,457.25 423.17,457.72 419.64,458.2 416.12,458.69 412.59,459.2 409.07,459.71 405.54,460.23 402.02,460.76 398.49,461.29 394.97,461.83 391.44,462.37 387.92,462.92" fill="#999" fill-opacity="0.4"/>
<line x1="387.92" y1="447.02" x2="666.38" y2="440.3" stroke="#f00" stroke-width="1.9"/>
<path d="M380.9 533.3v2.7M474.5 533.3v2.7M568.1 533.3v2.7M661.7 533.3v2.7M374 516.5h-2.7M374 456.5h-2.7M374 396.5h-2.7M374 336.5h-2.7" stroke="#333" stroke-width="1" fill="none"/>
<g font-size="14.5" fill="#4d4d4d">
<text x="380.9" y="548.1" text-anchor="middle">4</text>
<text x="474.5" y="548.1" text-anchor="middle">8</text>
<text x="568.1" y="548.1" text-anchor="middle">12</text>
<text x="661.7" y="548.1" text-anchor="middle">16</text>
<text x="369.8" y="521.5" text-anchor="end">1</text>
<text x="369.8" y="461.5" text-anchor="end">2</text>
<text x="369.8" y="401.5" text-anchor="end">3</text>
<text x="369.8" y="341.5" text-anchor="end">4</text>
</g>
<text x="527.1" y="562.7" text-anchor="middle" font-size="14.3" fill="#000">Viscosity D</text>
<text transform="translate(357.2 411.45) rotate(-90)" text-anchor="middle" font-size="14.3" fill="#000">PI</text>
</g>
<g>
<rect x="40.2" y="574.6" width="297.9" height="243.3" fill="#ebebeb"/>
<path d="M75.3 574.6V817.9M183.7 574.6V817.9M292.1 574.6V817.9M40.2 745.3H338.1M40.2 669.3H338.1M40.2 593.3H338.1" stroke="#fff" stroke-width="0.6" fill="none"/>
<path d="M129.5 574.6V817.9M237.9 574.6V817.9M40.2 783.3H338.1M40.2 707.3H338.1M40.2 631.3H338.1" stroke="#fff" stroke-width="1" fill="none"/>
<g fill="#000">
<circle cx="64.46" cy="631.3" r="1.8"/>
<circle cx="86.14" cy="649.54" r="1.8"/>
<circle cx="96.98" cy="606.98" r="1.8"/>
<circle cx="96.98" cy="646.5" r="1.8"/>
<circle cx="96.98" cy="649.54" r="1.8"/>
<circle cx="107.82" cy="622.18" r="1.8"/>
<circle cx="107.82" cy="625.22" r="1.8"/>
<circle cx="107.82" cy="631.3" r="1.8"/>
<circle cx="107.82" cy="643.46" r="1.8"/>
<circle cx="107.82" cy="649.54" r="1.8"/>
<circle cx="118.66" cy="606.98" r="1.8"/>
<circle cx="118.66" cy="637.38" r="1.8"/>
<circle cx="118.66" cy="673.86" r="1.8"/>
<circle cx="118.66" cy="807.62" r="1.8"/>
<circle cx="129.5" cy="613.06" r="1.8"/>
<circle cx="129.5" cy="631.3" r="1.8"/>
<circle cx="129.5" cy="640.42" r="1.8"/>
<circle cx="129.5" cy="643.46" r="1.8"/>
<circle cx="129.5" cy="650.45" r="1.8"/>
<circle cx="140.34" cy="652.58" r="1.8"/>
<circle cx="140.34" cy="686.02" r="1.8"/>
<circle cx="151.18" cy="622.18" r="1.8"/>
<circle cx="151.18" cy="628.26" r="1.8"/>
<circle cx="151.18" cy="631.3" r="1.8"/>
<circle cx="151.18" cy="643.46" r="1.8"/>
<circle cx="151.18" cy="655.62" r="1.8"/>
<circle cx="151.18" cy="658.66" r="1.8"/>
<circle cx="151.18" cy="667.78" r="1.8"/>
<circle cx="162.02" cy="625.22" r="1.8"/>
<circle cx="162.02" cy="628.26" r="1.8"/>
<circle cx="162.02" cy="637.38" r="1.8"/>
<circle cx="172.86" cy="603.94" r="1.8"/>
<circle cx="172.86" cy="616.1" r="1.8"/>
<circle cx="172.86" cy="628.26" r="1.8"/>
<circle cx="172.86" cy="658.66" r="1.8"/>
<circle cx="183.7" cy="631.3" r="1.8"/>
<circle cx="183.7" cy="637.38" r="1.8"/>
<circle cx="194.54" cy="610.02" r="1.8"/>
<circle cx="194.54" cy="637.38" r="1.8"/>
<circle cx="194.54" cy="640.42" r="1.8"/>
<circle cx="205.38" cy="634.34" r="1.8"/>
<circle cx="205.38" cy="646.5" r="1.8"/>
<circle cx="227.06" cy="649.54" r="1.8"/>
<circle cx="237.9" cy="610.02" r="1.8"/>
<circle cx="237.9" cy="664.74" r="1.8"/>
<circle cx="259.58" cy="625.22" r="1.8"/>
<circle cx="292.1" cy="631.3" r="1.8"/>
<circle cx="324.62" cy="603.94" r="1.8"/>
</g>
<polygon points="64.46,633.64 67.75,633.76 71.05,633.88 74.34,633.99 77.63,634.1 80.93,634.2 84.22,634.3 87.51,634.39 90.81,634.48 94.1,634.56 97.39,634.63 100.68,634.7 103.98,634.75 107.27,634.8 110.56,634.83 113.86,634.85 117.15,634.86 120.44,634.84 123.74,634.81 127.03,634.76 130.32,634.69 133.62,634.59 136.91,634.47 140.2,634.31 143.5,634.11 146.79,633.89 150.08,633.62 153.38,633.31 156.67,632.96 159.96,632.57 163.25,632.13 166.55,631.65 169.84,631.14 173.13,630.58 176.43,629.99 179.72,629.37 183.01,628.72 186.31,628.04 189.6,627.34 192.89,626.61 196.19,625.87 199.48,625.1 202.77,624.33 206.07,623.53 209.36,622.73 212.65,621.91 215.95,621.09 219.24,620.26 222.53,619.41 225.83,618.57 229.12,617.71 232.41,616.85 235.7,615.98 239,615.11 242.29,614.24 245.58,613.36 248.88,612.48 252.17,611.59 255.46,610.7 258.76,609.81 262.05,608.92 265.34,608.02 268.64,607.12 271.93,606.22 275.22,605.32 278.52,604.41 281.81,603.51 285.1,602.6 288.4,601.69 291.69,600.78 294.98,599.87 298.27,598.96 301.57,598.05 304.86,597.13 308.15,596.22 311.45,595.3 314.74,594.38 318.03,593.47 321.33,592.55 324.62,591.63 324.62,649.69 321.33,649.54 318.03,649.38 314.74,649.23 311.45,649.08 308.15,648.93 304.86,648.78 301.57,648.63 298.27,648.48 294.98,648.33 291.69,648.19 288.4,648.04 285.1,647.9 281.81,647.76 278.52,647.62 275.22,647.48 271.93,647.34 268.64,647.21 265.34,647.07 262.05,646.94 258.76,646.81 255.46,646.68 252.17,646.56 248.88,646.44 245.58,646.32 242.29,646.21 239,646.1 235.7,645.99 232.41,645.89 229.12,645.79 225.83,645.7 222.53,645.62 219.24,645.54 215.95,645.48 212.65,645.42 209.36,645.37 206.07,645.33 202.77,645.3 199.48,645.29 196.19,645.29 192.89,645.31 189.6,645.35 186.31,645.41 183.01,645.5 179.72,645.61 176.43,645.75 173.13,645.93 169.84,646.14 166.55,646.39 163.25,646.67 159.96,647 156.67,647.38 153.38,647.79 150.08,648.25 146.79,648.74 143.5,649.28 140.2,649.85 136.91,650.46 133.62,651.1 130.32,651.76 127.03,652.46 123.74,653.17 120.44,653.91 117.15,654.66 113.86,655.43 110.56,656.22 107.27,657.01 103.98,657.82 100.68,658.64 97.39,659.47 94.1,660.31 90.81,661.16 87.51,662.01 84.22,662.87 80.93,663.73 77.63,664.6 74.34,665.47 71.05,666.35 67.75,667.23 64.46,668.11" fill="#999" fill-opacity="0.4"/>
<line x1="64.46" y1="650.88" x2="324.62" y2="620.66" stroke="#f00" stroke-width="1.9"/>
<path d="M129.5 817.9v2.7M237.9 817.9v2.7M40.2 783.3h-2.7M40.2 707.3h-2.7M40.2 631.3h-2.7" stroke="#333" stroke-width="1" fill="none"/>
<g font-size="14.5" fill="#4d4d4d">
<text x="129.5" y="833.1" text-anchor="middle">3</text>
<text x="237.9" y="833.1" text-anchor="middle">4</text>
<text x="36" y="788.3" text-anchor="end">25</text>
<text x="36" y="712.3" text-anchor="end">50</text>
<text x="36" y="636.3" text-anchor="end">75</text>
</g>
<text x="189.15" y="847.7" text-anchor="middle" font-size="14.3" fill="#000">Viscosity S</text>
<text transform="translate(15 696.25) rotate(-90)" text-anchor="middle" font-size="14.3" fill="#000">DF(%)</text>
</g>
<g>
<rect x="382" y="574.6" width="298.2" height="243.3" fill="#ebebeb"/>
<path d="M434.19 574.6V817.9M525.47 574.6V817.9M616.75 574.6V817.9M382 745.3H680.2M382 669.3H680.2M382 593.3H680.2" stroke="#fff" stroke-width="0.6" fill="none"/>
<path d="M388.55 574.6V817.9M479.83 574.6V817.9M571.11 574.6V817.9M662.39 574.6V817.9M382 783.3H680.2M382 707.3H680.2M382 631.3H680.2" stroke="#fff" stroke-width="1" fill="none"/>
<g fill="#000">
<circle cx="395.4" cy="631.3" r="1.8"/>
<circle cx="404.52" cy="649.54" r="1.8"/>
<circle cx="409.09" cy="649.54" r="1.8"/>
<circle cx="436.47" cy="606.98" r="1.8"/>
<circle cx="441.04" cy="631.3" r="1.8"/>
<circle cx="438.75" cy="646.5" r="1.8"/>
<circle cx="441.04" cy="649.54" r="1.8"/>
<circle cx="457.01" cy="643.46" r="1.8"/>
<circle cx="461.57" cy="622.18" r="1.8"/>
<circle cx="461.57" cy="625.22" r="1.8"/>
<circle cx="468.42" cy="613.06" r="1.8"/>
<circle cx="470.7" cy="606.98" r="1.8"/>
<circle cx="468.42" cy="650.45" r="1.8"/>
<circle cx="470.7" cy="640.42" r="1.8"/>
<circle cx="477.55" cy="637.38" r="1.8"/>
<circle cx="477.55" cy="673.86" r="1.8"/>
<circle cx="482.11" cy="643.46" r="1.8"/>
<circle cx="484.39" cy="631.3" r="1.8"/>
<circle cx="491.24" cy="652.58" r="1.8"/>
<circle cx="498.09" cy="658.66" r="1.8"/>
<circle cx="498.09" cy="686.02" r="1.8"/>
<circle cx="502.65" cy="625.22" r="1.8"/>
<circle cx="502.65" cy="628.26" r="1.8"/>
<circle cx="507.21" cy="637.38" r="1.8"/>
<circle cx="507.21" cy="655.62" r="1.8"/>
<circle cx="509.5" cy="622.18" r="1.8"/>
<circle cx="509.5" cy="667.78" r="1.8"/>
<circle cx="511.78" cy="616.1" r="1.8"/>
<circle cx="516.34" cy="631.3" r="1.8"/>
<circle cx="516.34" cy="667.78" r="1.8"/>
<circle cx="523.19" cy="625.22" r="1.8"/>
<circle cx="525.47" cy="610.02" r="1.8"/>
<circle cx="525.47" cy="628.26" r="1.8"/>
<circle cx="527.75" cy="628.26" r="1.8"/>
<circle cx="530.03" cy="603.94" r="1.8"/>
<circle cx="530.03" cy="637.38" r="1.8"/>
<circle cx="532.32" cy="658.66" r="1.8"/>
<circle cx="541.44" cy="640.42" r="1.8"/>
<circle cx="548.29" cy="631.3" r="1.8"/>
<circle cx="548.29" cy="637.38" r="1.8"/>
<circle cx="559.7" cy="634.34" r="1.8"/>
<circle cx="561.98" cy="646.5" r="1.8"/>
<circle cx="580.24" cy="610.02" r="1.8"/>
<circle cx="582.52" cy="643.46" r="1.8"/>
<circle cx="582.52" cy="649.54" r="1.8"/>
<circle cx="587.08" cy="664.74" r="1.8"/>
<circle cx="600.78" cy="625.22" r="1.8"/>
<circle cx="662.39" cy="603.94" r="1.8"/>
<circle cx="666.95" cy="631.3" r="1.8"/>
<circle cx="472.98" cy="807.62" r="1.8"/>
</g>
<polygon points="395.4,630.08 398.83,630.27 402.27,630.45 405.71,630.63 409.15,630.81 412.58,630.98 416.02,631.15 419.46,631.31 422.9,631.47 426.33,631.62 429.77,631.77 433.21,631.91 436.65,632.04 440.08,632.17 443.52,632.28 446.96,632.39 450.4,632.49 453.83,632.58 457.27,632.65 460.71,632.71 464.14,632.76 467.58,632.79 471.02,632.81 474.46,632.8 477.89,632.78 481.33,632.73 484.77,632.67 488.21,632.57 491.64,632.46 495.08,632.31 498.52,632.14 501.96,631.93 505.39,631.7 508.83,631.43 512.27,631.14 515.71,630.81 519.14,630.46 522.58,630.08 526.02,629.66 529.46,629.22 532.89,628.76 536.33,628.27 539.77,627.76 543.21,627.23 546.64,626.68 550.08,626.11 553.52,625.53 556.96,624.93 560.39,624.31 563.83,623.69 567.27,623.05 570.71,622.4 574.14,621.74 577.58,621.08 581.02,620.4 584.46,619.72 587.89,619.03 591.33,618.33 594.77,617.63 598.21,616.93 601.64,616.22 605.08,615.5 608.52,614.78 611.95,614.06 615.39,613.33 618.83,612.6 622.27,611.86 625.7,611.13 629.14,610.39 632.58,609.64 636.02,608.9 639.45,608.15 642.89,607.4 646.33,606.65 649.77,605.9 653.2,605.15 656.64,604.39 660.08,603.63 663.52,602.88 666.95,602.12 666.95,653.19 663.52,652.97 660.08,652.76 656.64,652.55 653.2,652.34 649.77,652.14 646.33,651.93 642.89,651.72 639.45,651.52 636.02,651.32 632.58,651.12 629.14,650.93 625.7,650.74 622.27,650.55 618.83,650.36 615.39,650.17 611.95,649.99 608.52,649.81 605.08,649.64 601.64,649.47 598.21,649.31 594.77,649.15 591.33,648.99 587.89,648.84 584.46,648.7 581.02,648.56 577.58,648.43 574.14,648.31 570.71,648.2 567.27,648.1 563.83,648.01 560.39,647.93 556.96,647.86 553.52,647.81 550.08,647.77 546.64,647.75 543.21,647.75 539.77,647.76 536.33,647.8 532.89,647.85 529.46,647.94 526.02,648.04 522.58,648.18 519.14,648.34 515.71,648.53 512.27,648.75 508.83,649.01 505.39,649.29 501.96,649.6 498.52,649.94 495.08,650.32 491.64,650.72 488.21,651.14 484.77,651.6 481.33,652.08 477.89,652.58 474.46,653.1 471.02,653.64 467.58,654.21 464.14,654.78 460.71,655.38 457.27,655.99 453.83,656.61 450.4,657.24 446.96,657.88 443.52,658.54 440.08,659.2 436.65,659.87 433.21,660.55 429.77,661.24 426.33,661.93 422.9,662.63 419.46,663.33 416.02,664.04 412.58,664.76 409.15,665.48 405.71,666.2 402.27,666.93 398.83,667.66 395.4,668.39" fill="#999" fill-opacity="0.4"/>
<line x1="395.4" y1="649.24" x2="666.95" y2="627.65" stroke="#f00" stroke-width="1.9"/>
<path d="M388.55 817.9v2.7M479.83 817.9v2.7M571.11 817.9v2.7M662.39 817.9v2.7M382 783.3h-2.7M382 707.3h-2.7M382 631.3h-2.7" stroke="#333" stroke-width="1" fill="none"/>
<g font-size="14.5" fill="#4d4d4d">
<text x="388.55" y="833.1" text-anchor="middle">4</text>
<text x="479.83" y="833.1" text-anchor="middle">8</text>
<text x="571.11" y="833.1" text-anchor="middle">12</text>
<text x="662.39" y="833.1" text-anchor="middle">16</text>
<text x="377.8" y="788.3" text-anchor="end">25</text>
<text x="377.8" y="712.3" text-anchor="end">50</text>
<text x="377.8" y="636.3" text-anchor="end">75</text>
</g>
<text x="531.1" y="847.7" text-anchor="middle" font-size="14.3" fill="#000">Viscosity D</text>
<text transform="translate(357.2 696.25) rotate(-90)" text-anchor="middle" font-size="14.3" fill="#000">DF(%)</text>
</g>
</svg>
</body></html>
